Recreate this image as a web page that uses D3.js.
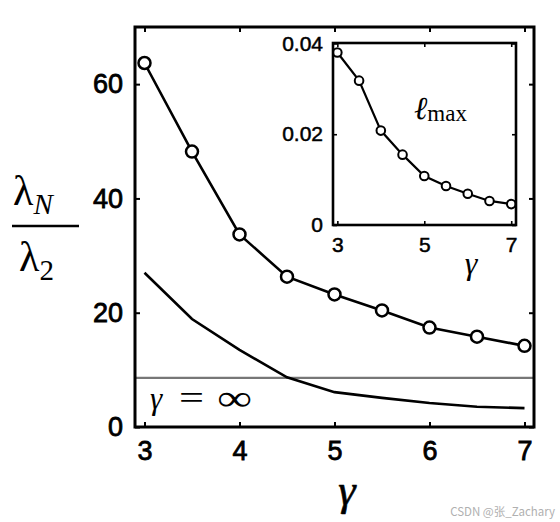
<!DOCTYPE html>
<html>
<head>
<meta charset="utf-8">
<script src="https://cdn.jsdelivr.net/npm/d3@7"></script>
<style>
  html, body { margin: 0; padding: 0; background: #fff; }
  svg { display: block; }
</style>
</head>
<body>
<svg id="chart" width="560" height="522"></svg>
<script>
// ---- data ----
const gammaValues = [3, 3.5, 4, 4.5, 5, 5.5, 6, 6.5, 7];
const ratioSimulated = [63.7, 48.2, 33.7, 26.3, 23.2, 20.4, 17.4, 15.8, 14.2];
const ratioLowerCurve = [27.0, 18.9, 13.5, 8.7, 6.1, 5.1, 4.2, 3.55, 3.3];
const ratioInfinity = 8.6;
const lmaxValues = [0.0380, 0.0318, 0.0208, 0.0155, 0.0108, 0.0086, 0.0069, 0.0053, 0.0046];
const mainXTicks = [3, 4, 5, 6, 7];
const mainYTicks = [0, 20, 40, 60];
const insetXTicks = [3, 5, 7];
const insetYTicks = [0, 0.02, 0.04];
const insetYTickLabels = ["0", "0.02", "0.04"];

const svg = d3.select("#chart");

// ---- main plot ----
const M = { left: 135, right: 534, top: 27, bottom: 427 };
const x = d3.scaleLinear().domain([2.9, 7.1]).range([M.left, M.right]);
const y = d3.scaleLinear().domain([0, 70]).range([M.bottom, M.top]);

const main = svg.append("g");

main.append("line")
  .attr("x1", M.left).attr("x2", M.right)
  .attr("y1", y(ratioInfinity)).attr("y2", y(ratioInfinity))
  .attr("stroke", "#777").attr("stroke-width", 2.2);

const lineMain = d3.line().x((d, i) => x(gammaValues[i])).y(d => y(d));
main.append("path").datum(ratioLowerCurve)
  .attr("d", lineMain).attr("fill", "none")
  .attr("stroke", "#000").attr("stroke-width", 2.6);

main.append("path").datum(ratioSimulated)
  .attr("d", lineMain).attr("fill", "none")
  .attr("stroke", "#000").attr("stroke-width", 2.6);
main.selectAll("circle.sim").data(ratioSimulated).enter().append("circle")
  .attr("class", "sim")
  .attr("cx", (d, i) => x(gammaValues[i])).attr("cy", d => y(d))
  .attr("r", 6).attr("fill", "#fff").attr("stroke", "#000").attr("stroke-width", 2.5);

main.append("rect")
  .attr("x", M.left).attr("y", M.top)
  .attr("width", M.right - M.left).attr("height", M.bottom - M.top)
  .attr("fill", "none").attr("stroke", "#000").attr("stroke-width", 3);

const tickFont = "'Liberation Sans', Arial, sans-serif";
const axB = d3.axisBottom(x).tickValues(mainXTicks).tickSize(-5).tickPadding(14).tickFormat(d3.format("d"));
const axT = d3.axisTop(x).tickValues(mainXTicks).tickSize(-5).tickFormat("");
const axL = d3.axisLeft(y).tickValues(mainYTicks).tickSize(-5).tickPadding(12).tickFormat(d3.format("d"));
const axR = d3.axisRight(y).tickValues(mainYTicks).tickSize(-5).tickFormat("");

function styleAxis(g, fs, sw) {
  g.select(".domain").remove();
  g.selectAll(".tick line").attr("stroke", "#000").attr("stroke-width", 2);
  g.selectAll("text").attr("fill", "#000").attr("stroke", "#000").attr("stroke-width", sw)
    .style("font-family", tickFont).style("font-size", fs + "px");
}
main.append("g").attr("transform", `translate(0,${M.bottom})`).call(axB).call(g => styleAxis(g, 27, 0.8));
main.append("g").attr("transform", `translate(0,${M.top})`).call(axT).call(g => styleAxis(g, 27, 0.8));
main.append("g").attr("transform", `translate(${M.left},0)`).call(axL).call(g => styleAxis(g, 27, 0.8));
main.append("g").attr("transform", `translate(${M.right},0)`).call(axR).call(g => styleAxis(g, 27, 0.8));

const serif = "'Liberation Serif', 'DejaVu Serif', serif";

// gamma = infinity label
const infLabel = main.append("g").style("font-family", serif).attr("fill", "#000");
infLabel.append("text").attr("x", 150).attr("y", 409).style("font-style", "italic").style("font-size", "31px").text("γ");
infLabel.append("text").attr("x", 179).attr("y", 409).style("font-size", "34px")
  .attr("textLength", 25).attr("lengthAdjust", "spacingAndGlyphs").text("=");
infLabel.append("text").attr("x", 217).attr("y", 410).style("font-size", "36px")
  .attr("textLength", 35).attr("lengthAdjust", "spacingAndGlyphs").text("∞");

// x label
svg.append("text").attr("x", 347).attr("y", 505).attr("text-anchor", "middle")
  .style("font-family", serif).style("font-style", "italic").style("font-size", "44px")
  .attr("stroke", "#000").attr("stroke-width", 0.6)
  .attr("fill", "#000").text("γ");

// y label fraction
const num = svg.append("text").attr("x", 13).attr("y", 205)
  .style("font-family", serif).style("font-size", "42px").attr("fill", "#000");
num.append("tspan").text("λ");
num.append("tspan").attr("dy", 9).style("font-style", "italic").style("font-size", "29px").text("N");
svg.append("line").attr("x1", 12).attr("x2", 79).attr("y1", 226).attr("y2", 226)
  .attr("stroke", "#000").attr("stroke-width", 2.5);
const den = svg.append("text").attr("x", 19).attr("y", 271)
  .style("font-family", serif).style("font-size", "42px").attr("fill", "#000");
den.append("tspan").text("λ");
den.append("tspan").attr("dy", 9).style("font-size", "29px").text("2");

// ---- inset ----
const I = { left: 333, right: 516, top: 43, bottom: 225 };
const xi = d3.scaleLinear().domain([2.9, 7.11]).range([I.left, I.right]);
const yi = d3.scaleLinear().domain([0, 0.0401]).range([I.bottom, I.top]);
const inset = svg.append("g");
inset.append("rect").attr("x", I.left).attr("y", I.top)
  .attr("width", I.right - I.left).attr("height", I.bottom - I.top).attr("fill", "#fff");
const lineInset = d3.line().x((d, i) => xi(gammaValues[i])).y(d => yi(d));
inset.append("path").datum(lmaxValues).attr("d", lineInset).attr("fill", "none")
  .attr("stroke", "#000").attr("stroke-width", 2.2);
inset.selectAll("circle.lm").data(lmaxValues).enter().append("circle")
  .attr("class", "lm")
  .attr("cx", (d, i) => xi(gammaValues[i])).attr("cy", d => yi(d))
  .attr("r", 4.3).attr("fill", "#fff").attr("stroke", "#000").attr("stroke-width", 2);
inset.append("rect").attr("x", I.left).attr("y", I.top)
  .attr("width", I.right - I.left).attr("height", I.bottom - I.top)
  .attr("fill", "none").attr("stroke", "#000").attr("stroke-width", 2.6);

const iaxB = d3.axisBottom(xi).tickValues(insetXTicks).tickSize(-4).tickPadding(12).tickFormat(d3.format("d"));
const iaxT = d3.axisTop(xi).tickValues(insetXTicks).tickSize(-4).tickFormat("");
const iaxL = d3.axisLeft(yi).tickValues(insetYTicks).tickSize(-4).tickPadding(10).tickFormat((d, i) => insetYTickLabels[i]);
const iaxR = d3.axisRight(yi).tickValues(insetYTicks).tickSize(-4).tickFormat("");
inset.append("g").attr("transform", `translate(0,${I.bottom})`).call(iaxB).call(g => styleAxis(g, 21, 0.5));
inset.append("g").attr("transform", `translate(0,${I.top})`).call(iaxT).call(g => styleAxis(g, 21, 0.5));
inset.append("g").attr("transform", `translate(${I.left},0)`).call(iaxL).call(g => styleAxis(g, 21, 0.5));
inset.append("g").attr("transform", `translate(${I.right},0)`).call(iaxR).call(g => styleAxis(g, 21, 0.5));
inset.selectAll(".tick line").attr("stroke-width", 1.6);

inset.append("text").attr("x", 471).attr("y", 274).attr("text-anchor", "middle")
  .style("font-family", serif).style("font-style", "italic").style("font-size", "32px")
  .attr("fill", "#000").text("γ");

const lm = inset.append("text").attr("x", 414).attr("y", 119)
  .style("font-family", serif).attr("fill", "#000");
lm.append("tspan").style("font-style", "italic").style("font-size", "32px").text("ℓ");
lm.append("tspan").attr("dy", 2).style("font-size", "23px").text("max");

// watermark
svg.append("text").attr("x", 555).attr("y", 516).attr("text-anchor", "end")
  .style("font-family", "'Noto Sans CJK SC', 'Noto Sans', sans-serif").style("font-size", "11.5px")
  .attr("fill", "#b0b0b0").text("CSDN @张_Zachary");
</script>
</body>
</html>
